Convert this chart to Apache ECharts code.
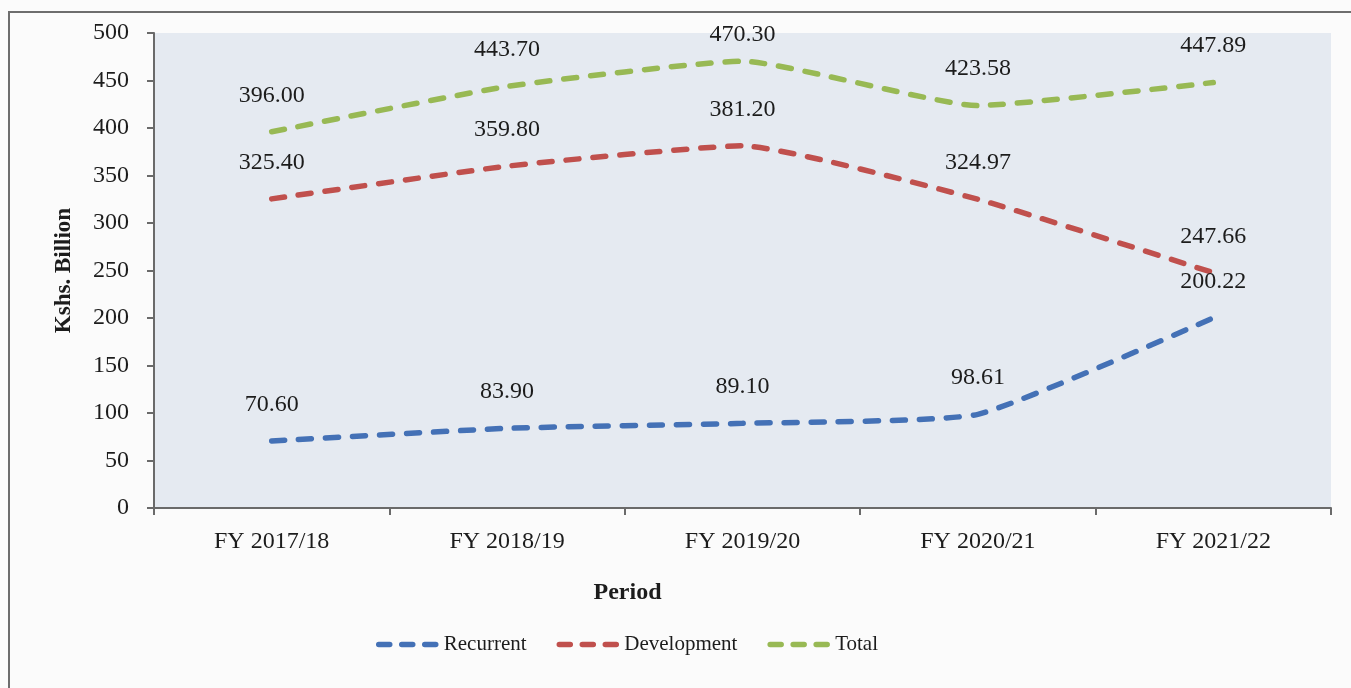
<!DOCTYPE html>
<html>
<head>
<meta charset="utf-8">
<title>Kshs. Billion by Period</title>
<script src="https://cdn.jsdelivr.net/npm/echarts@6/dist/echarts.min.js"></script>
<style>
	html, body { margin: 0; padding: 0; background: #fbfbfb; }
	#main { width: 1351px; height: 688px; }
</style>
</head>
<body>
<div id="main"></div>
<script type="text/javascript">
	// 数据
	var periods = ['FY 2017/18', 'FY 2018/19', 'FY 2019/20', 'FY 2020/21', 'FY 2021/22'];
	var recurrent = [70.60, 83.90, 89.10, 98.61, 200.22];
	var development = [325.40, 359.80, 381.20, 324.97, 247.66];
	var total = [396.00, 443.70, 470.30, 423.58, 447.89];
	var yTicks = [0, 50, 100, 150, 200, 250, 300, 350, 400, 450, 500];

	var serif = 'Liberation Serif';
	var ink = '#1c1c1c';
	var axisGray = '#6a6a6a';

	function genLine(name, values, color) {
		var data = [];
		for (var i = 0; i < values.length; i++) {
			data[i] = values[i];
		}
		// the peak label sits lower, it is pushed inside the plot
		if (name == 'Total') {
			data[2] = { value: values[2], label: { distance: 14 } };
		}
		return {
			name: name,
			type: 'line',
			data: data,
			smooth: 0.15,
			symbol: 'circle',
			symbolSize: 1,
			itemStyle: { color: 'transparent' },
			lineStyle: { color: color, width: 5.5, type: [13, 14], cap: 'round' },
			label: {
				show: true,
				position: 'top',
				distance: 24,
				color: ink,
				fontFamily: serif,
				fontSize: 24,
				formatter: function (p) {
					return Number(p.value).toFixed(2);
				}
			},
			emphasis: { disabled: true },
			animation: false
		};
	}

	var myChart = echarts.init(document.getElementById('main'));
	myChart.setOption({
		backgroundColor: '#fbfbfb',
		graphic: [{
			type: 'rect',
			shape: { x: 9, y: 12, width: 1400, height: 720 },
			style: { fill: 'none', stroke: '#6e6e6e', lineWidth: 2 },
			silent: true
		}],
		grid: {
			left: 154,
			right: 20,
			top: 33,
			bottom: 180,
			show: true,
			backgroundColor: '#e5eaf1',
			borderWidth: 0
		},
		legend: {
			left: 371,
			top: 629,
			itemWidth: 58,
			itemHeight: 14,
			itemGap: 30,
			lineStyle: { width: 5.5, type: [11, 12], cap: 'round' },
			textStyle: { color: ink, fontFamily: serif, fontSize: 21, padding: [0, 0, 0, 2] },
			data: ['Recurrent', 'Development', 'Total']
		},
		xAxis: {
			type: 'category',
			data: periods,
			boundaryGap: true,
			name: 'Period',
			nameLocation: 'middle',
			nameGap: 73,
			nameTextStyle: {
				color: ink, fontFamily: serif, fontSize: 24, fontWeight: 'bold',
				padding: [0, 230, 0, 0]
			},
			axisLine: { lineStyle: { color: axisGray, width: 2 } },
			axisTick: { show: true, length: 7, inside: false, lineStyle: { color: axisGray, width: 2 } },
			axisLabel: { color: ink, fontFamily: serif, fontSize: 24, margin: 22 },
			splitLine: { show: false }
		},
		yAxis: {
			type: 'value',
			min: yTicks[0],
			max: yTicks[yTicks.length - 1],
			interval: yTicks[1] - yTicks[0],
			name: 'Kshs. Billion',
			nameLocation: 'middle',
			nameGap: 78,
			nameTextStyle: { color: ink, fontFamily: serif, fontSize: 23, fontWeight: 'bold' },
			axisLine: { show: true, lineStyle: { color: axisGray, width: 2 } },
			axisTick: { show: true, length: 7, lineStyle: { color: axisGray, width: 2 } },
			axisLabel: { color: ink, fontFamily: serif, fontSize: 24, margin: 25 },
			splitLine: { show: false }
		},
		series: [
			genLine('Recurrent', recurrent, '#4471b6'),
			genLine('Development', development, '#c0504d'),
			genLine('Total', total, '#98b954')
		]
	});
</script>
</body>
</html>
